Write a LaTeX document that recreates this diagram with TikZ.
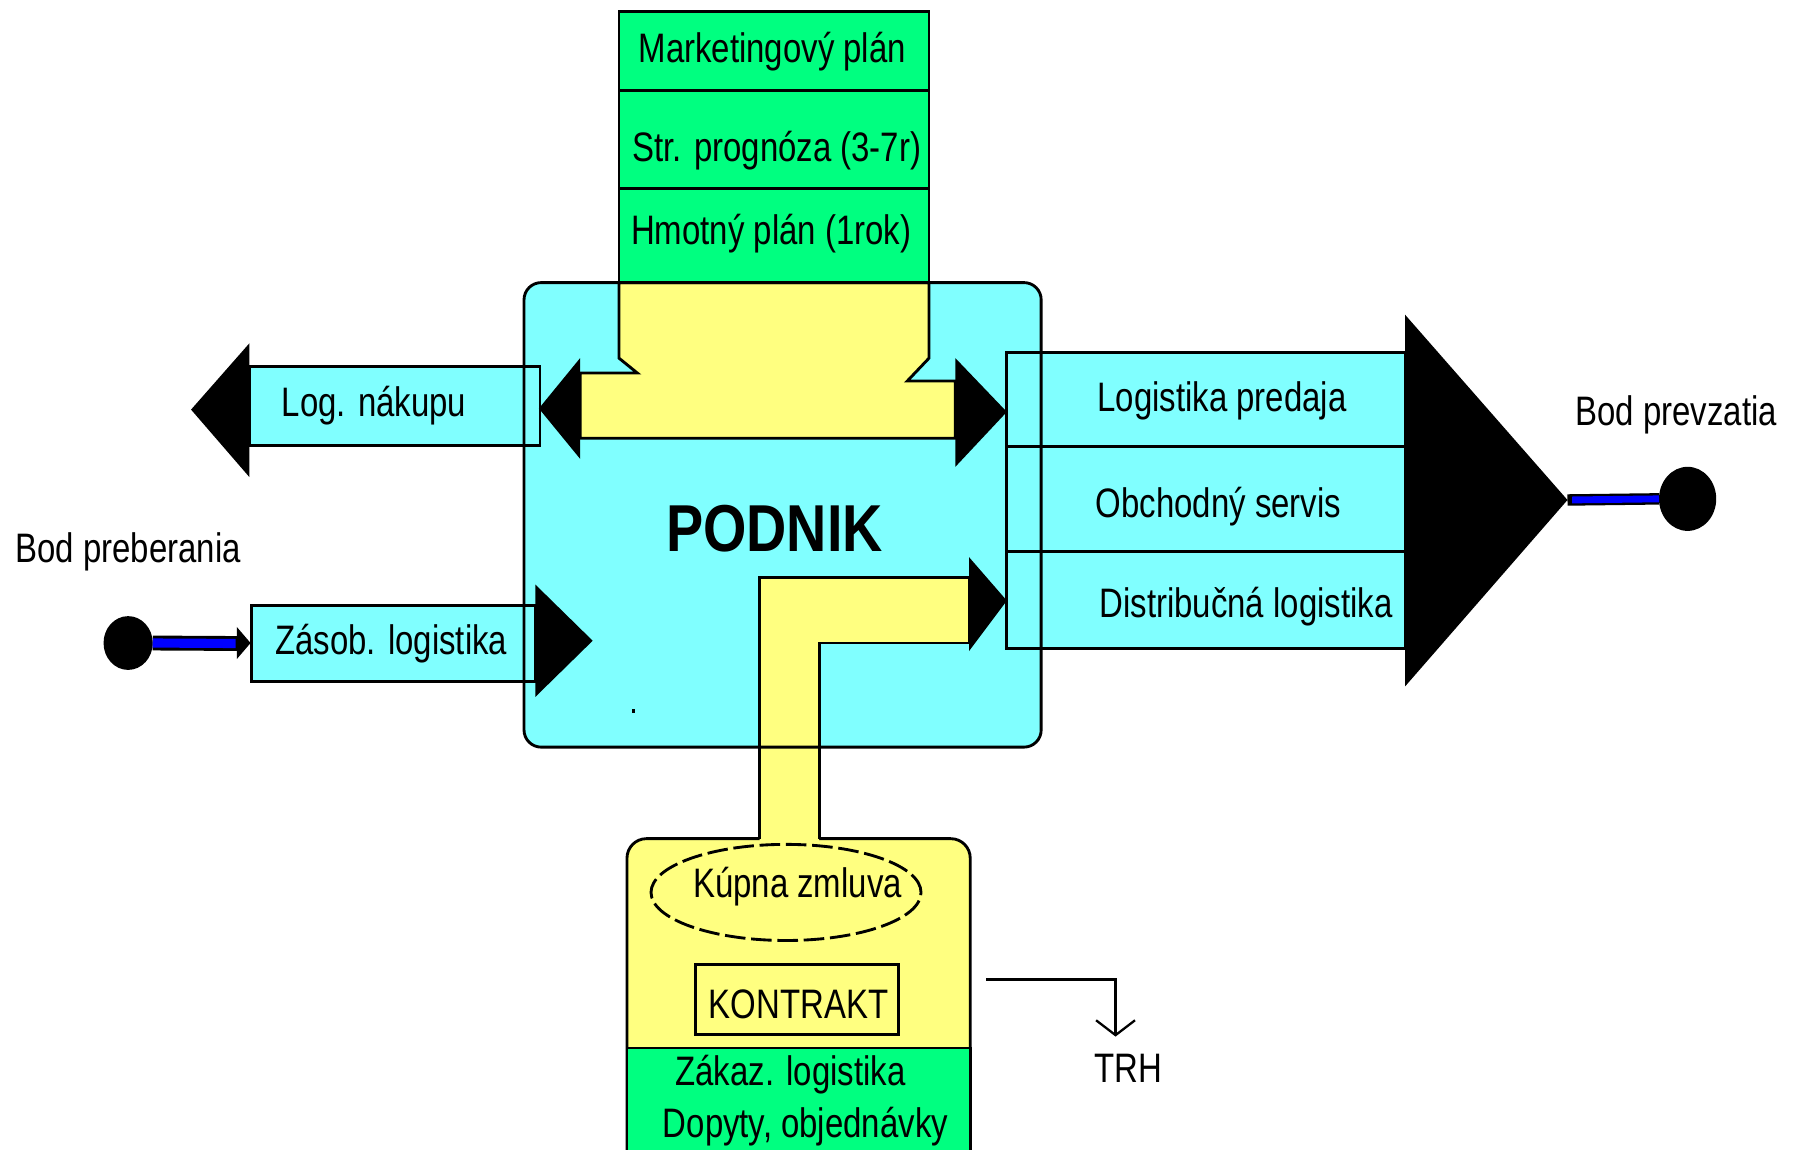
\documentclass[tikz,border=0pt]{standalone}
\usepackage{fontspec}
\setmainfont{Liberation Sans}[FakeStretch=0.8]
\newfontfamily\podnikfont{Liberation Sans}[FakeStretch=0.84]
\usetikzlibrary{shapes.geometric,arrows.meta}

\definecolor{boxcyan}{RGB}{128,255,255}
\definecolor{plangreen}{RGB}{0,255,128}
\definecolor{flowyellow}{RGB}{255,255,128}
\definecolor{linkblue}{RGB}{0,0,255}

\begin{document}
\begin{tikzpicture}[x=1pt,y=-1pt, line width=2.5pt, line join=miter,
  txt/.style={font=\fontsize{36}{40}\selectfont, inner sep=0pt, outer sep=0pt, anchor=base},
  cbox/.style={draw, fill=boxcyan, rectangle, inner sep=0pt, outer sep=0pt, anchor=north west},
  gbox/.style={draw, fill=plangreen, rectangle, inner sep=0pt, outer sep=0pt, anchor=north west},
  head/.style={fill=black, draw=none},
  dotnode/.style={ellipse, fill=black, draw=none, inner sep=0pt, outer sep=0pt},
]
\useasboundingbox (0,0) rectangle (1568,1005);
\fill[white] (0,0) rectangle (1568,1005);

% enterprise block (fill first, outline later)
\node[rectangle, fill=boxcyan, draw=none, rounded corners=15pt, inner sep=0pt, outer sep=0pt,
      anchor=north west, minimum width=452pt, minimum height=406pt] (podnik) at (458,247) {};

% customer block at the bottom
\filldraw[fill=flowyellow, rounded corners=17pt] (548,1030) -- (548,733) -- (848,733) -- (848,1030);
\filldraw[fill=plangreen] (548,916) rectangle (848,1030);
\node[ellipse, draw, dash pattern=on 18pt off 5pt, minimum width=236pt, minimum height=84pt,
      inner sep=0pt] (kupna) at (687,780) {};
\node[rectangle, draw, inner sep=0pt, outer sep=0pt, anchor=north west,
      minimum width=177pt, minimum height=61pt] (kontrakt) at (608,843) {};

% contract flow from the customer up to distribution
\fill[flowyellow] (664,735) -- (664,505) -- (847,505) -- (847,562) -- (716,562) -- (716,735) -- cycle;
\draw (664,733) -- (664,505) -- (847,505) -- (847,562) -- (716,562) -- (716,733);

% side boxes
\node[cbox, minimum width=254pt, minimum height=69pt] (lognak) at (218,320) {};
\node[cbox, minimum width=248pt, minimum height=67pt] (zasob) at (220,529) {};
\node[cbox, minimum width=348pt, minimum height=82pt] (predaj) at (880,308) {};
\node[cbox, minimum width=348pt, minimum height=92pt] (servis) at (880,390) {};
\node[cbox, minimum width=348pt, minimum height=85pt] (distrib) at (880,482) {};

% planning flow through the enterprise
\filldraw[fill=flowyellow] (541,247) -- (541,313) -- (557,326) -- (507,326) -- (507,383)
  -- (835,383) -- (835,333) -- (793,333) -- (812,313) -- (812,247) -- cycle;

% enterprise outline
\draw[rounded corners=15pt] (podnik.north west) rectangle (podnik.south east);
\fill (552,620) rectangle (555,623);

% arrow heads
\fill[head] (218,300) -- (167,358) -- (218,417) -- cycle;
\fill[head] (507,313) -- (471,357) -- (507,401) -- cycle;
\fill[head] (835,313) -- (880,360) -- (835,408) -- cycle;
\fill[head] (468,511) -- (518,560) -- (468,609) -- cycle;
\fill[head] (847,487) -- (880,525) -- (847,569) -- cycle;
\fill[head] (1228,275) -- (1370,437) -- (1228,600) -- cycle;
\coordinate (bigtip) at (1370,437);

% planning documents
\node[gbox, minimum width=271pt, minimum height=69pt] (mkt) at (541,10) {};
\node[gbox, minimum width=271pt, minimum height=86pt] (prog) at (541,79) {};
\node[gbox, minimum width=271pt, minimum height=82pt] (hmot) at (541,165) {};

% reception and handover points
\node[dotnode, minimum width=43pt, minimum height=47pt] (preb) at (112,562) {};
\node[dotnode, minimum width=50pt, minimum height=56pt] (prevz) at (1475,436) {};
\draw[line width=13pt, shorten >=12pt] (preb.east) -- (zasob.west);
\draw[linkblue, line width=8pt, shorten >=14pt] (preb.east) -- (zasob.west);
\fill[head] (207,548) -- (219,562) -- (207,576) -- cycle;
\draw[line width=10pt] (bigtip) -- (prevz.west);
\draw[linkblue, line width=6pt, shorten <=4pt] (bigtip) -- (prevz.west);

% market
\coordinate (trhstart) at (862,856);
\coordinate (trhend) at (975,906);
\draw[-{Straight Barb[length=13pt,width=34pt,line width=2pt]}] (trhstart) -| (trhend);

% labels
\node[txt] (t-mkt) at (675,55) {Marketingový plán};
\node[txt] (t-prog) at (679,141) {Str. prognóza (3-7r)};
\node[txt] (t-hmot) at (674,214) {Hmotný plán (1rok)};
\node[txt] (t-lognak) at (327,364) {Log. nákupu};
\node[txt] (t-zasob) at (342,572) {Zásob. logistika};
\node[txt] (t-predaj) at (1068,360) {Logistika predaja};
\node[txt] (t-servis) at (1065,452) {Obchodný servis};
\node[txt] (t-distrib) at (1089,540) {Distribučná logistika};
\node[txt] (t-prevz) at (1465,372) {Bod prevzatia};
\node[txt] (t-preb) at (112,492) {Bod preberania};
\node[txt, font=\podnikfont\bfseries\fontsize{58}{60}\selectfont] (t-podnik) at (677,482) {PODNIK};
\node[txt] (t-kupna) at (697,784) {Kúpna zmluva};
\node[txt] (t-kontrakt) at (698,890) {KONTRAKT};
\node[txt] (t-zakaz) at (691,949) {Zákaz. logistika};
\node[txt] (t-dopyty) at (704,994) {Dopyty, objednávky};
\node[txt] (t-trh) at (986,946) {TRH};
\end{tikzpicture}
\end{document}
